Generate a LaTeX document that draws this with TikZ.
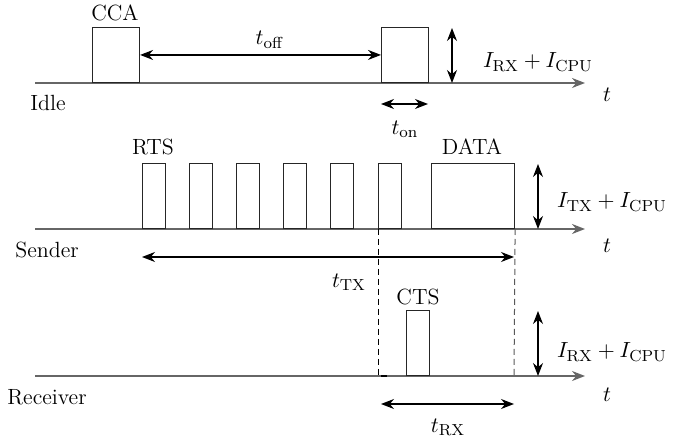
\documentclass[tikz,border=0pt]{standalone}
\usetikzlibrary{arrows.meta}
\begin{document}
\begin{tikzpicture}[x=0.5pt,y=-0.5pt,
  font=\fontsize{11}{13}\selectfont,
  axisline/.style={draw=black!60, line width=0.8pt, -{Stealth[length=6.5pt,width=5pt]}},
  slot/.style={draw=black!85, line width=0.55pt, inner sep=0pt, anchor=south west},
  dim/.style={line width=0.6pt, {Stealth[length=6.5pt,width=5pt]}-{Stealth[length=6.5pt,width=5pt]}},
  guide/.style={line width=0.5pt, dash pattern=on 3pt off 2pt},
  lbl/.style={inner sep=0pt}]
\useasboundingbox (0,0) rectangle (673,442);

% ---------- Idle node ----------
\coordinate (ia) at (35,83);
\coordinate (ib) at (585,83);
\draw[axisline] (ia) -- (ib);
\node[lbl] (tidle) at (607,95) {$t$};
\node[lbl] (lidle) at (48,103) {Idle};
\node[slot, minimum width=23.5pt, minimum height=27.5pt] (cca) at (92,83) {};
\node[slot, minimum width=23.5pt, minimum height=27.5pt] (won) at (381,83) {};
\node[lbl] (lcca) at (115,13) {CCA};
\draw[dim] (cca.east) -- (won.west);
\node[lbl] (toff) at (270,40) {$t_{\mathrm{off}}$};
\coordinate (iu) at (452,28);
\coordinate (id) at (452,83);
\draw[dim] (iu) -- (id);
\node[lbl] (irx1) at (538,62) {$I_{\mathrm{RX}}+I_{\mathrm{CPU}}$};
\coordinate (ona) at (381,104);
\coordinate (onb) at (428,104);
\draw[dim] (ona) -- (onb);
\node[lbl] (ton) at (405,129) {$t_{\mathrm{on}}$};

% ---------- Sender ----------
\coordinate (sa) at (35,229);
\coordinate (sb) at (585,229);
\draw[axisline] (sa) -- (sb);
\node[lbl] (tsnd) at (607,246) {$t$};
\node[lbl] (lsnd) at (47,250) {Sender};
\foreach \i/\x in {1/142,2/189,3/236,4/283,5/330,6/378}
  \node[slot, minimum width=11.5pt, minimum height=32.5pt] (rts\i) at (\x,229) {};
\node[slot, minimum width=41.5pt, minimum height=32.5pt] (data) at (431,229) {};
\node[lbl] (lrts) at (153,147) {RTS};
\node[lbl] (ldata) at (472,147) {DATA};
\coordinate (su) at (538,164);
\coordinate (sd) at (538,229);
\draw[dim] (su) -- (sd);
\node[lbl] (itx) at (612,202) {$I_{\mathrm{TX}}+I_{\mathrm{CPU}}$};
\coordinate (txa) at (142,257);
\coordinate (txb) at (514,257);
\draw[dim] (txa) -- (txb);
\node[lbl] (ttx) at (349,282) {$t_{\mathrm{TX}}$};

% ---------- Receiver ----------
\coordinate (ra) at (35,376);
\coordinate (rb) at (585,376);
\draw[axisline] (ra) -- (rb);
\node[lbl] (trcv) at (607,395) {$t$};
\node[lbl] (lrcv) at (47,397) {Receiver};
\node[slot, minimum width=11.5pt, minimum height=32.5pt] (cts) at (406,376) {};
\node[lbl] (lcts) at (418,297) {CTS};
\coordinate (ru) at (538,311);
\coordinate (rd) at (538,376);
\draw[dim] (ru) -- (rd);
\node[lbl] (irx2) at (612,352) {$I_{\mathrm{RX}}+I_{\mathrm{CPU}}$};
\coordinate (rxa) at (381,404);
\coordinate (rxb) at (514,404);
\draw[dim] (rxa) -- (rxb);
\node[lbl] (trx) at (448,427) {$t_{\mathrm{RX}}$};

% ---------- guide lines between sender and receiver ----------
\coordinate (g1) at (378,376);
\coordinate (g2) at (514,376);
\coordinate (g1e) at (390,376);
\draw[guide] (rts6.south west) -- (g1) -- (g1e);
\draw[guide, draw=black!65] (data.south east) -- (g2);
\end{tikzpicture}
\end{document}
